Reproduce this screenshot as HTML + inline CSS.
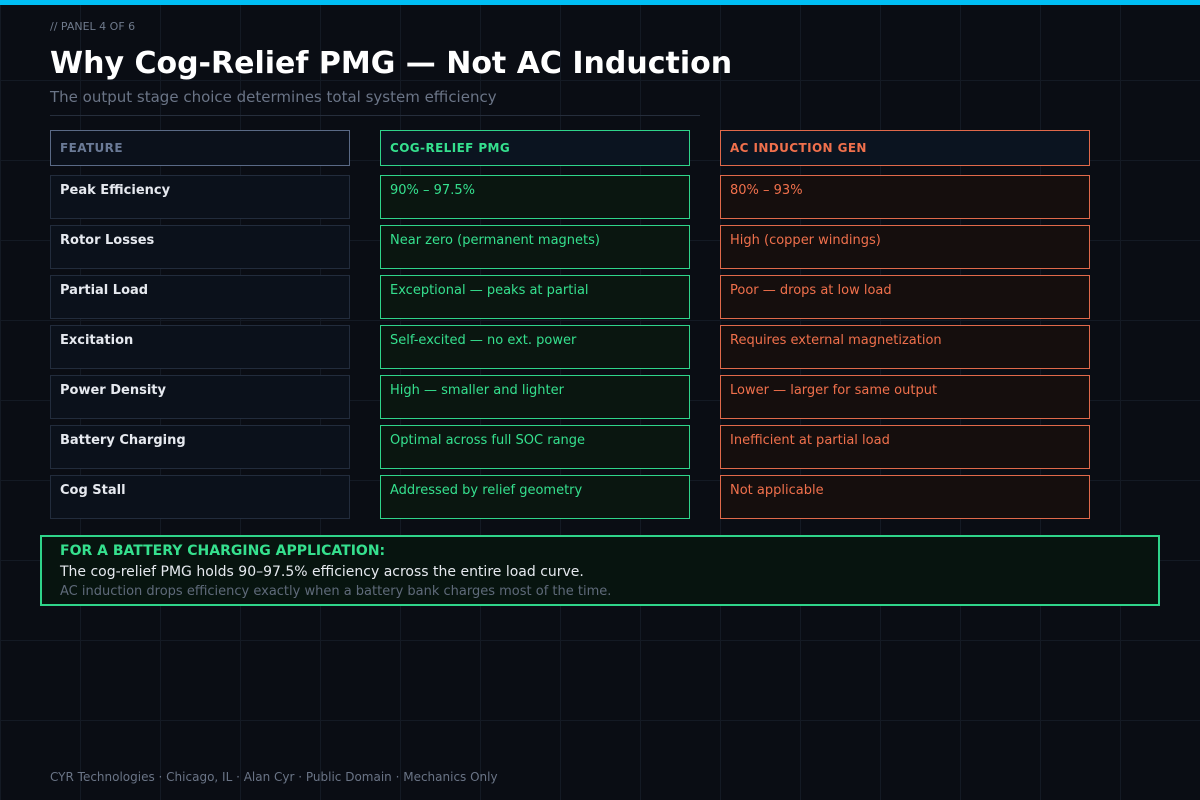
<!DOCTYPE html>
<html><head><meta charset="utf-8"><style>
*{margin:0;padding:0;box-sizing:border-box}
body{width:1200px;height:800px;background:#0a0d14;position:relative;overflow:hidden;font-family:"DejaVu Sans","Liberation Sans",sans-serif;
background-image:linear-gradient(#141a24 1px,transparent 1px),linear-gradient(90deg,#141a24 1px,transparent 1px);background-size:80px 80px;}
.a{position:absolute}
.cell{position:absolute;height:44px;padding:7px 9px;font-size:13px}
.f{left:50px;width:300px;border:1px solid #222c3c;background:#0b111b;color:#e6e9ef;font-weight:bold;font-size:13px}
.p{left:380px;width:310px;border:1px solid #2fd48a;background:#0a1610;color:#35e08e}
.c{left:720px;width:370px;border:1px solid #e0694a;background:#150e0d;color:#f0704c}
.h{top:130px;height:36px;padding:10px 9px;font-weight:bold;font-size:12px;letter-spacing:0.4px}
</style></head><body>
<div class="a" style="left:0;top:0;width:1200px;height:5px;background:#00bff5"></div>
<div class="a" style="left:50px;top:20px;font-size:11px;color:#6f7a8c">// PANEL 4 OF 6</div>
<div class="a" style="left:50px;top:46px;font-size:30px;font-weight:bold;color:#fff">Why Cog-Relief PMG — Not AC Induction</div>
<div class="a" style="left:50px;top:88px;font-size:15px;color:#6a7486">The output stage choice determines total system efficiency</div>
<div class="a" style="left:50px;top:115px;width:650px;height:1px;background:#262e3c"></div>

<div class="cell f h" style="border-color:#5a6a86;color:#6a7a96">FEATURE</div>
<div class="cell p h" style="background:#0b1420">COG-RELIEF PMG</div>
<div class="cell c h" style="background:#0b1420">AC INDUCTION GEN</div>

<div id="rows"></div>

<div class="a" style="left:40px;top:535px;width:1120px;height:71px;border:2px solid #2fd48a;background:#07140f"></div>
<div class="a" style="left:60px;top:543px;font-size:14px;font-weight:bold;color:#35e08e">FOR A BATTERY CHARGING APPLICATION:</div>
<div class="a" style="left:60px;top:564px;font-size:14px;color:#e6e9ef">The cog-relief PMG holds 90–97.5% efficiency across the entire load curve.</div>
<div class="a" style="left:60px;top:584px;font-size:13px;color:#5f6a7a">AC induction drops efficiency exactly when a battery bank charges most of the time.</div>

<div class="a" style="left:50px;top:770px;font-size:12px;color:#6a7486">CYR Technologies · Chicago, IL · Alan Cyr · Public Domain · Mechanics Only</div>
<script>
const features=["Peak Efficiency","Rotor Losses","Partial Load","Excitation","Power Density","Battery Charging","Cog Stall"];
const pmg=["90% – 97.5%","Near zero (permanent magnets)","Exceptional — peaks at partial","Self-excited — no ext. power","High — smaller and lighter","Optimal across full SOC range","Addressed by relief geometry"];
const ac=["80% – 93%","High (copper windings)","Poor — drops at low load","Requires external magnetization","Lower — larger for same output","Inefficient at partial load","Not applicable"];
const r=document.getElementById('rows');
features.forEach((f,i)=>{
  const top=175+50*i;
  [[f,'f','feature-cell'],[pmg[i],'p','pmg-cell'],[ac[i],'c','ac-cell']].forEach(([t,cls,n])=>{
    const d=document.createElement('div');
    d.className='cell '+cls;
    d.style.top=top+'px';
    d.textContent=t;
    
    
    r.appendChild(d);
  });
});
</script>
</body></html>
